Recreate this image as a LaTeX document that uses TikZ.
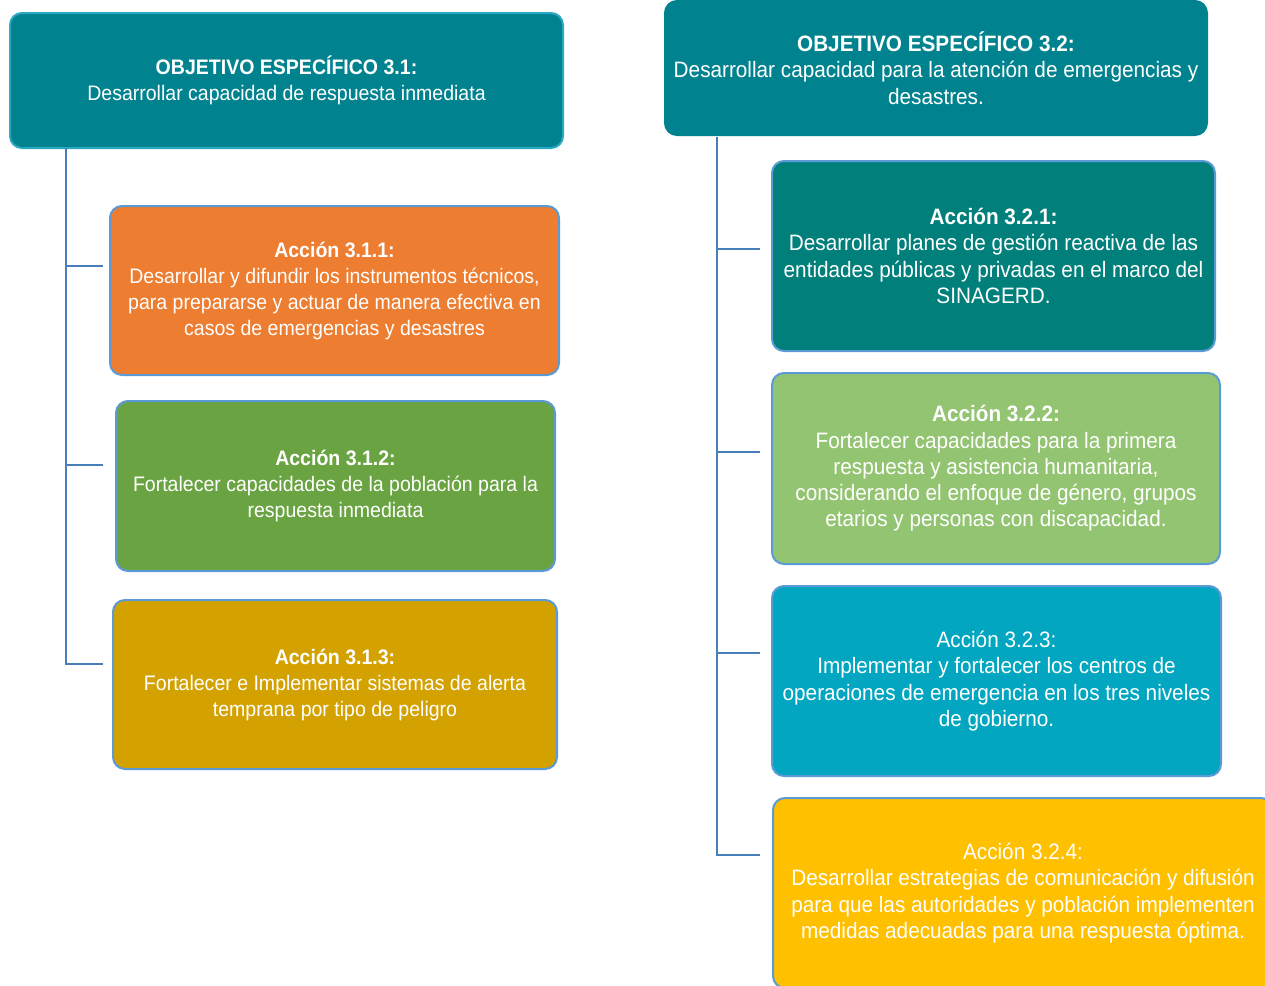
\documentclass[tikz,border=0pt]{standalone}
\usepackage{fontspec}
\setmainfont[FakeStretch=0.93]{Liberation Sans}

\definecolor{objfill}{HTML}{00838F}
\definecolor{objline}{HTML}{2AA8C2}
\definecolor{boxline}{HTML}{5B9BD5}
\definecolor{linkblue}{HTML}{4A7EBB}
\definecolor{naranja}{HTML}{ED7D31}
\definecolor{verde}{HTML}{6AA442}
\definecolor{ocre}{HTML}{D4A200}
\definecolor{petroleo}{HTML}{007F7B}
\definecolor{verdeclaro}{HTML}{93C472}
\definecolor{celeste}{HTML}{02A6C1}
\definecolor{ambar}{HTML}{FFC000}

\tikzset{
  box/.style={draw=boxline, line width=2pt, rounded corners=12pt, text=white,
    align=center, inner sep=0pt, font=\fontsize{21}{26}\selectfont},
  rbox/.style={box, font=\fontsize{22.3}{26.3}\selectfont},
  objbox/.style={fill=objfill, draw=objline},
  link/.style={draw=linkblue, line width=2.5pt},
}

\begin{document}
\begin{tikzpicture}[x=1pt, y=-1pt]
\useasboundingbox (0,0) rectangle (1265,985);
\clip (0,0) rectangle (1265,985);

% objetivo 3.1
\node [box, objbox, minimum width=553pt, minimum height=135pt] (o1) at (286.5,80.5)
  {\textbf{OBJETIVO ESPECÍFICO 3.1:}\\Desarrollar capacidad de respuesta inmediata};
\node [box, fill=naranja, minimum width=449pt, minimum height=169pt] (a311) at (334.5,290.5)
  {\textbf{Acción 3.1.1:}\\Desarrollar y difundir los instrumentos técnicos,\\para prepararse y actuar de manera efectiva en\\casos de emergencias y desastres};
\node [box, fill=verde, minimum width=439pt, minimum height=170pt] (a312) at (335.5,486)
  {\textbf{Acción 3.1.2:}\\Fortalecer capacidades de la población para la\\respuesta inmediata};
\node [box, fill=ocre, minimum width=444pt, minimum height=169pt] (a313) at (335,684.5)
  {\textbf{Acción 3.1.3:}\\Fortalecer e Implementar sistemas de alerta\\temprana por tipo de peligro};

% objetivo 3.2
\node [rbox, objbox, draw=objfill, minimum width=542pt, minimum height=134pt] (o2) at (936,68)
  {\textbf{OBJETIVO ESPECÍFICO 3.2:}\\Desarrollar capacidad para la atención de emergencias y\\desastres.};
\node [rbox, fill=petroleo, minimum width=443pt, minimum height=190pt] (a321) at (993.5,256)
  {\textbf{Acción 3.2.1:}\\Desarrollar planes de gestión reactiva de las\\entidades públicas y privadas en el marco del\\SINAGERD.};
\node [rbox, fill=verdeclaro, minimum width=448pt, minimum height=191pt] (a322) at (996,468.5)
  {\textbf{Acción 3.2.2:}\\Fortalecer capacidades para la primera\\respuesta y asistencia humanitaria,\\considerando el enfoque de género, grupos\\etarios y personas con discapacidad.};
\node [rbox, fill=celeste, minimum width=449pt, minimum height=190pt] (a323) at (996.5,681)
  {Acción 3.2.3:\\Implementar y fortalecer los centros de\\operaciones de emergencia en los tres niveles\\de gobierno.};
\node [rbox, fill=ambar, minimum width=500pt, minimum height=190pt] (a324) at (1023,893)
  {Acción 3.2.4:\\Desarrollar estrategias de comunicación y difusión\\para que las autoridades y población implementen\\medidas adecuadas para una respuesta óptima.};

% conectores
\coordinate (l1) at (66,148);
\coordinate (t311) at (103,266);
\coordinate (t312) at (103,465);
\coordinate (t313) at (103,664);
\draw [link] (l1) |- (t313);
\draw [link] (l1 |- t311) -- (t311);
\draw [link] (l1 |- t312) -- (t312);

\coordinate (l2) at (717,137);
\coordinate (t321) at (760,249);
\coordinate (t322) at (760,452);
\coordinate (t323) at (760,653);
\coordinate (t324) at (760,855);
\draw [link] (l2) |- (t324);
\draw [link] (l2 |- t321) -- (t321);
\draw [link] (l2 |- t322) -- (t322);
\draw [link] (l2 |- t323) -- (t323);
\end{tikzpicture}
\end{document}
